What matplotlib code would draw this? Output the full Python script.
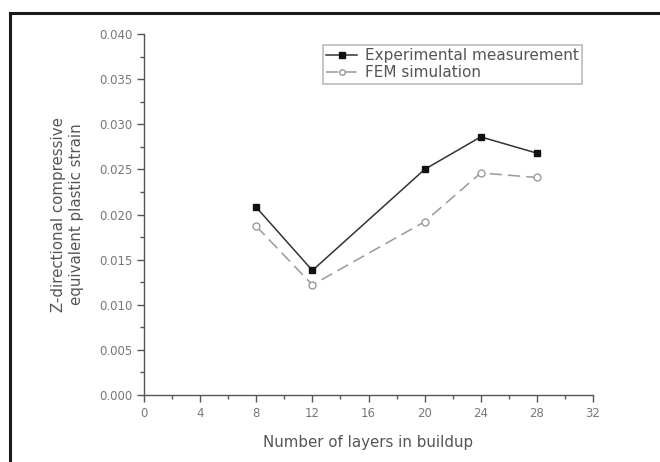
import matplotlib.pyplot as plt
from matplotlib.lines import Line2D
from matplotlib.ticker import MultipleLocator

layers = [8, 12, 20, 24, 28]
experimental = [0.0208, 0.0138, 0.0250, 0.0286, 0.0268]
fem = [0.0187, 0.0122, 0.0192, 0.0246, 0.0241]

txt = '#555555'

fig = plt.figure(figsize=(6.6, 4.62), dpi=100)
ax = fig.add_axes([144/660, 1 - 395/462, (593 - 144)/660, (395 - 34)/462])

# outer frame (cropped at right and bottom)
fx = 10.5/660
fy = 1 - 12.5/462
fig.add_artist(Line2D([fx, fx], [0, fy], transform=fig.transFigure, color='#1a1a1a', lw=2.2))
fig.add_artist(Line2D([fx, 1], [fy, fy], transform=fig.transFigure, color='#1a1a1a', lw=2.2))

ax.plot(layers, experimental, color='#333333', lw=1.1, marker='s', ms=5,
        mfc='#111111', mec='#111111', label='Experimental measurement')
ax.plot(layers, fem, color='#999999', lw=1.1, ls=(0, (8, 4)), marker='o', ms=5,
        mfc='white', mec='#999999', label='FEM simulation')

ax.set_xlim(0, 32)
ax.set_ylim(0, 0.040)
ax.xaxis.set_major_locator(MultipleLocator(4))
ax.xaxis.set_minor_locator(MultipleLocator(2))
ax.yaxis.set_major_locator(MultipleLocator(0.005))
ax.yaxis.set_minor_locator(MultipleLocator(0.0025))
ax.yaxis.set_major_formatter(plt.FuncFormatter(lambda v, p: f'{v:.3f}'))

for s in ['top', 'right']:
    ax.spines[s].set_visible(False)
for s in ['left', 'bottom']:
    ax.spines[s].set_color('#555555')
    ax.spines[s].set_linewidth(1.0)

ax.tick_params(which='major', direction='out', length=5, width=1, color='#555555',
               labelsize=8.5, labelcolor='#777777')
ax.tick_params(which='minor', direction='out', length=3, width=1, color='#555555')

ax.set_xlabel('Number of layers in buildup', fontsize=10.8, color=txt, labelpad=11)
ax.set_ylabel('Z-directional compressive\nequivalent plastic strain', fontsize=10.8,
              color=txt, labelpad=11)

leg = ax.legend(loc='upper left', bbox_to_anchor=((315 - 144)/449, 1 - (37 - 34)/361),
                fontsize=11, frameon=True, fancybox=False, borderpad=0.25,
                handlelength=2.0, handletextpad=0.5, labelspacing=0.1,
                markerscale=0.8)
leg.get_frame().set_edgecolor('#aaaaaa')
leg.get_frame().set_linewidth(1.2)
for t in leg.get_texts():
    t.set_color(txt)

fig.savefig('out.png', dpi=100)
